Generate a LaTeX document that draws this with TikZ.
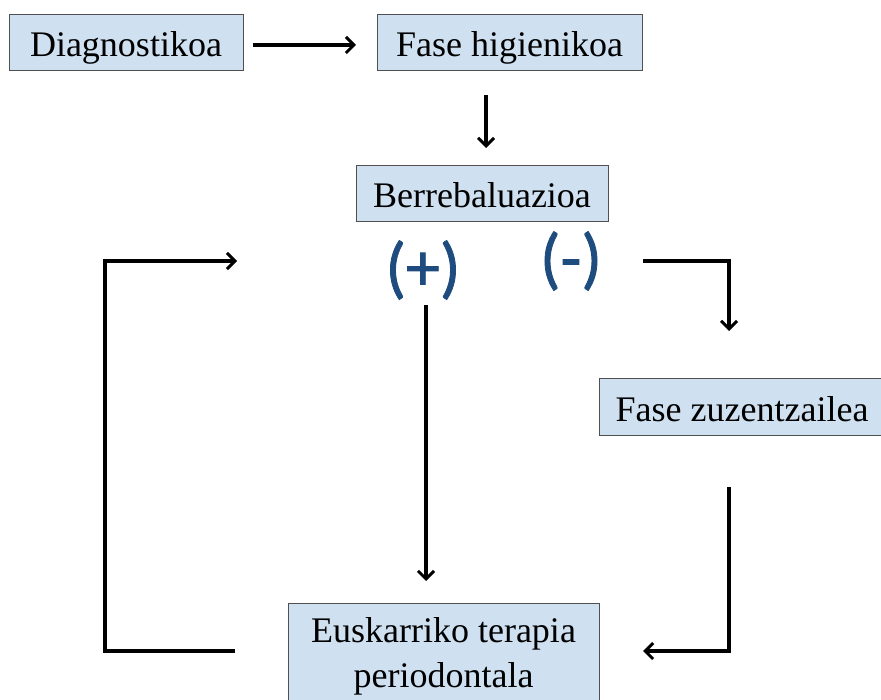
\documentclass[tikz,border=0pt]{standalone}
\usepackage{fontspec}
\setmainfont{Liberation Serif}
\newfontfamily\signfont[FakeBold=1.2]{Carlito}
\usetikzlibrary{arrows.meta}
\definecolor{boxfill}{RGB}{207,224,241}
\definecolor{boxline}{RGB}{80,80,80}
\definecolor{signblue}{RGB}{31,76,126}
\begin{document}
\begin{tikzpicture}[x=1pt,y=-1pt,
  stagebox/.style={draw=boxline,line width=0.8pt,fill=boxfill,inner sep=0pt,
    font=\fontsize{36}{42}\selectfont,align=center},
  oneline/.style={text height=29pt,text depth=0pt},
  sign/.style={text=signblue,font=\signfont\fontsize{68}{68}\selectfont,inner sep=0pt},
  conn/.style={line width=3.2pt,-{Straight Barb[length=8pt,width=16pt,line width=3pt]}}]
\useasboundingbox (0,0) rectangle (881,700);
\clip (0,0) rectangle (881,700);
\node[stagebox,oneline,minimum width=234pt,minimum height=56pt] (diag) at (126,42) {Diagnostikoa};
\node[stagebox,oneline,minimum width=265pt,minimum height=56pt] (fh) at (509.5,42) {Fase higienikoa};
\node[stagebox,oneline,minimum width=252pt,minimum height=56pt] (berr) at (482,193) {Berrebaluazioa};
\node[stagebox,oneline,minimum width=286pt,minimum height=57pt] (fz) at (742,406.5) {Fase zuzentzailea};
\node[stagebox,minimum width=311pt,minimum height=106pt] (eusk) at (443.5,656) {Euskarriko terapia\\[3pt]periodontala};
\node[sign] (plus) at (423,270) {(+)};
\node[sign] (minus) at (571,261) {(-)};
% coordinates
\coordinate (a1) at (253,45);
\coordinate (a2) at (356,45);
\coordinate (b1) at (486,95);
\coordinate (b2) at (486,148);
\coordinate (p1) at (426,305);
\coordinate (p2) at (426,581);
\coordinate (m1) at (643,261);
\coordinate (m2) at (729,261);
\coordinate (m3) at (729,331);
\coordinate (z1) at (729,487);
\coordinate (z2) at (729,651);
\coordinate (z3) at (643,651);
\coordinate (l1) at (235,651);
\coordinate (l2) at (105,651);
\coordinate (l3) at (105,261);
\coordinate (l4) at (237,261);
\draw[conn] (a1) -- (a2);
\draw[conn] (b1) -- (b2);
\draw[conn] (p1) -- (p2);
\draw[conn] (m1) -- (m2) -- (m3);
\draw[conn] (z1) -- (z2) -- (z3);
\draw[conn] (l1) -- (l2) -- (l3) -- (l4);
\end{tikzpicture}
\end{document}
